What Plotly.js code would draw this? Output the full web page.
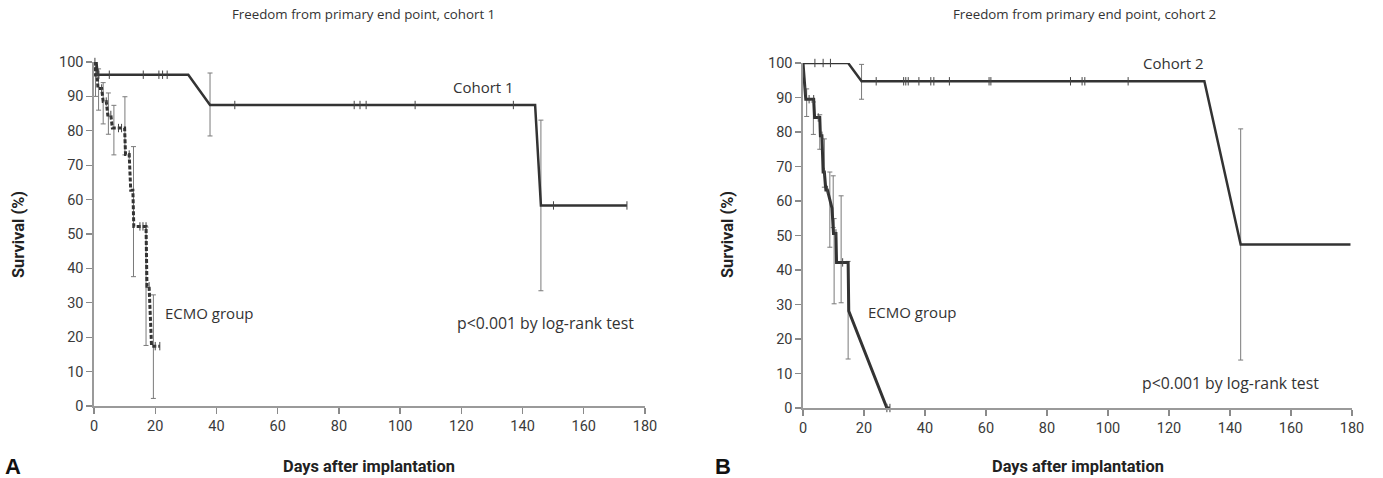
<!DOCTYPE html>
<html>
<head>
<meta charset="utf-8">
<script src="https://cdn.plot.ly/plotly-3.0.1.min.js"></script>
<style>html,body{margin:0;padding:0;background:#fff;}#chart{width:1383px;height:478px;}</style>
</head>
<body>
<div id="chart"></div>
<script>
// ---------- Panel A data ----------
const c1Days = [0, 0.8, 1.2, 1.6, 5, 16.1, 21.2, 22.4, 23.9, 30.8, 37.9, 46, 85, 86.9, 88.9, 104.9, 137, 144.1, 146, 150.1, 174.1];
const c1Surv = [100, 100, 96.3, 96.3, 96.3, 96.3, 96.3, 96.3, 96.3, 96.3, 87.5, 87.5, 87.5, 87.5, 87.5, 87.5, 87.5, 87.5, 58.3, 58.3, 58.3];
const c1CensorDays = [1.6, 5, 16.1, 21.2, 22.4, 23.9, 46, 85, 86.9, 88.9, 104.9, 137, 150.1, 174.1];
const c1CensorSurv = [96.3, 96.3, 96.3, 96.3, 96.3, 96.3, 87.5, 87.5, 87.5, 87.5, 87.5, 87.5, 58.3, 58.3];
const c1CiDays = [37.9, 146];
const c1CiSurv = [87.5, 58.3];
const c1CiLow = [78.5, 33.5];
const c1CiHigh = [96.8, 83.1];

const e1Days = [0, 0.3, 0.5, 1, 1.3, 2, 2.5, 3, 4, 4.5, 5.5, 6, 8, 9, 10, 10.3, 11.5, 12, 12.7, 13, 15, 16, 17, 17.3, 18, 18.8, 20, 21.5];
const e1Surv = [100, 100, 96.2, 96.2, 92.3, 92.3, 92.3, 88.5, 88.5, 84.6, 84.6, 80.8, 80.8, 80.8, 80.8, 73.1, 73.1, 62.7, 62.7, 52.2, 52.2, 52.2, 52.2, 34.8, 34.8, 17.4, 17.4, 17.4];
const e1CensorDays = [0.3, 1, 2.5, 4, 5.5, 8, 9, 11.5, 15, 16, 17, 18, 20, 21.5];
const e1CensorSurv = [100, 96.2, 92.3, 88.5, 84.6, 80.8, 80.8, 73.1, 52.2, 52.2, 52.2, 34.8, 17.4, 17.4];
const e1CiDays = [0.5, 1.5, 3, 4.7, 6.5, 10.1, 12.9, 17, 19.4];
const e1CiSurv = [96.2, 92.3, 88.5, 84.6, 80.8, 80.8, 62.7, 34.8, 17.4];
const e1CiLow = [90, 86, 82, 79, 73, 73, 37.6, 17.6, 2.2];
const e1CiHigh = [100, 98, 94, 91, 87.4, 89.9, 75.4, 52, 32.3];

// ---------- Panel B data ----------
const c2Days = [0, 3.9, 6.6, 9, 14.8, 19.2, 24, 33, 33.7, 34.5, 38, 41.9, 42.9, 48, 61, 61.6, 87.7, 91.5, 92.4, 106.6, 131.6, 143.5, 179.5];
const c2Surv = [100, 100, 100, 100, 100, 94.7, 94.7, 94.7, 94.7, 94.7, 94.7, 94.7, 94.7, 94.7, 94.7, 94.7, 94.7, 94.7, 94.7, 94.7, 94.7, 47.4, 47.4];
const c2CensorDays = [3.9, 6.6, 9, 24, 33, 33.7, 34.5, 38, 41.9, 42.9, 48, 61, 61.6, 87.7, 91.5, 92.4, 106.6];
const c2CensorSurv = [100, 100, 100, 94.7, 94.7, 94.7, 94.7, 94.7, 94.7, 94.7, 94.7, 94.7, 94.7, 94.7, 94.7, 94.7, 94.7];
const c2CiDays = [19.2, 143.5];
const c2CiSurv = [94.7, 47.4];
const c2CiLow = [89.5, 13.9];
const c2CiHigh = [99.6, 80.9];

const e2Days = [0, 0.2, 0.4, 0.7, 0.9, 2, 3.5, 3.8, 5, 5.5, 5.7, 6.2, 6.4, 6.6, 7, 7.5, 8, 9.5, 10, 10.8, 11, 13, 14.8, 15, 27.5, 28.5];
const e2Surv = [100, 97, 94.7, 92, 89.5, 89.5, 89.5, 84.2, 84.2, 84.2, 78.9, 78.9, 73.7, 68.4, 68.4, 63.2, 63.2, 57.9, 50.6, 50.6, 42.2, 42.2, 42.2, 28.1, 0, 0];
const e2CensorDays = [0.2, 0.7, 2, 3.5, 5, 6.2, 7, 8, 10.8, 13, 27.5, 28.5];
const e2CensorSurv = [97, 92, 89.5, 89.5, 84.2, 78.9, 68.4, 63.2, 50.6, 42.2, 0, 0];
const e2CiDays = [1.2, 3.4, 5.5, 7, 8.8, 9.9, 10.2, 12.5, 14.8];
const e2CiSurv = [89.5, 84.2, 78.9, 68.4, 57.9, 50.6, 42.2, 42.2, 28.1];
const e2CiLow = [84.5, 79.3, 75, 64, 46.6, 52.3, 30.2, 30.5, 14.2];
const e2CiHigh = [92.5, 88.7, 85, 78, 68.4, 67.3, 54.9, 61.5, 42.5];

const xTickVals = [0, 20, 40, 60, 80, 100, 120, 140, 160, 180];
const yTickVals = [0, 10, 20, 30, 40, 50, 60, 70, 80, 90, 100];

const LINE = '#333333';
const ERR = '#7a7a7a';

function curve(x, y, xa, ya, dash, width) {
  return {x: x, y: y, xaxis: xa, yaxis: ya, type: 'scatter', mode: 'lines',
    line: {color: LINE, width: width, dash: dash}, cliponaxis: false, hoverinfo: 'skip', showlegend: false};
}
function censor(x, y, xa, ya) {
  return {x: x, y: y, xaxis: xa, yaxis: ya, type: 'scatter', mode: 'markers',
    marker: {symbol: 'line-ns', size: 6, color: '#444', line: {width: 1, color: '#444'}},
    cliponaxis: false, hoverinfo: 'skip', showlegend: false};
}
function ci(x, y, lo, hi, xa, ya) {
  return {x: x, y: y, xaxis: xa, yaxis: ya, type: 'scatter', mode: 'markers',
    marker: {size: 1, color: 'rgba(0,0,0,0)'},
    error_y: {type: 'data', symmetric: false,
      array: hi.map((h, i) => h - y[i]), arrayminus: lo.map((l, i) => y[i] - l),
      color: ERR, thickness: 1, width: 2.5},
    cliponaxis: false, hoverinfo: 'skip', showlegend: false};
}

const data = [
  ci(c1CiDays, c1CiSurv, c1CiLow, c1CiHigh, 'x', 'y'),
  ci(e1CiDays, e1CiSurv, e1CiLow, e1CiHigh, 'x', 'y'),
  curve(c1Days, c1Surv, 'x', 'y', 'solid', 2.5),
  curve(e1Days, e1Surv, 'x', 'y', '4px,2px', 3),
  censor(c1CensorDays, c1CensorSurv, 'x', 'y'),
  censor(e1CensorDays, e1CensorSurv, 'x', 'y'),
  ci(c2CiDays, c2CiSurv, c2CiLow, c2CiHigh, 'x2', 'y2'),
  ci(e2CiDays, e2CiSurv, e2CiLow, e2CiHigh, 'x2', 'y2'),
  curve(c2Days, c2Surv, 'x2', 'y2', 'solid', 2.5),
  curve(e2Days, e2Surv, 'x2', 'y2', 'solid', 3),
  censor(c2CensorDays, c2CensorSurv, 'x2', 'y2'),
  censor(e2CensorDays, e2CensorSurv, 'x2', 'y2')
];

const W = 1383, H = 478;
const tickFont = {family: 'Roboto, sans-serif', size: 14.5, color: '#3a3a3a'};
function xAxis(domain, anchor) {
  return {domain: domain, range: [0, 180], anchor: anchor, tickvals: xTickVals, ticktext: xTickVals.map(String),
    ticks: 'outside', ticklen: 6, tickwidth: 1.3, tickcolor: '#8a8a8a', showline: true, linecolor: '#9a9a9a', linewidth: 1.6,
    showgrid: false, zeroline: false, tickfont: tickFont, fixedrange: true};
}
function yAxis(domain, anchor) {
  return {domain: domain, range: [0, 100], anchor: anchor, tickvals: yTickVals, ticktext: yTickVals.map(String),
    ticks: 'outside', ticklen: 6, tickwidth: 1.3, tickcolor: '#8a8a8a', showline: true, linecolor: '#9a9a9a', linewidth: 1.6,
    showgrid: false, zeroline: false, tickfont: tickFont, fixedrange: true};
}

const annFont = {family: 'Open Sans, Noto Sans, sans-serif', size: 15, color: '#333'};
const pFont = {family: 'Open Sans, Noto Sans, sans-serif', size: 15.8, color: '#333'};
const titleFont = {family: 'Open Sans, Noto Sans, sans-serif', size: 13.3, color: '#333'};
const axTitleFont = {family: 'Roboto, sans-serif', size: 16.4, color: '#222', weight: 'bold'};
const letterFont = {family: 'Liberation Sans, Arial, sans-serif', size: 22, color: '#111', weight: 'bold'};

const annotations = [
  {xref: 'paper', yref: 'paper', x: 363 / W, y: 1 - 14 / H, text: 'Freedom from primary end point, cohort 1', showarrow: false, font: titleFont, xanchor: 'center', yanchor: 'middle'},
  {xref: 'paper', yref: 'paper', x: 1084 / W, y: 1 - 14 / H, text: 'Freedom from primary end point, cohort 2', showarrow: false, font: titleFont, xanchor: 'center', yanchor: 'middle'},
  {xref: 'x', yref: 'y', x: 127.1, y: 92.6, text: 'Cohort 1', showarrow: false, font: annFont, xanchor: 'center', yanchor: 'middle'},
  {xref: 'x', yref: 'y', x: 22.5, y: 27, text: 'ECMO group', showarrow: false, font: annFont, xanchor: 'left', yanchor: 'middle'},
  {xref: 'x', yref: 'y', x: 118, y: 24.1, text: 'p&lt;0.001 by log-rank test', showarrow: false, font: pFont, xanchor: 'left', yanchor: 'middle'},
  {xref: 'x2', yref: 'y2', x: 121.6, y: 100, text: 'Cohort 2', showarrow: false, font: annFont, xanchor: 'center', yanchor: 'middle'},
  {xref: 'x2', yref: 'y2', x: 20.7, y: 27.8, text: 'ECMO group', showarrow: false, font: annFont, xanchor: 'left', yanchor: 'middle'},
  {xref: 'x2', yref: 'y2', x: 110.5, y: 7.2, text: 'p&lt;0.001 by log-rank test', showarrow: false, font: pFont, xanchor: 'left', yanchor: 'middle'},
  {xref: 'paper', yref: 'paper', x: 18 / W, y: 1 - 235 / H, text: 'Survival (%)', textangle: -90, showarrow: false, font: axTitleFont, xanchor: 'center', yanchor: 'middle'},
  {xref: 'paper', yref: 'paper', x: 727 / W, y: 1 - 235 / H, text: 'Survival (%)', textangle: -90, showarrow: false, font: axTitleFont, xanchor: 'center', yanchor: 'middle'},
  {xref: 'paper', yref: 'paper', x: 369 / W, y: 1 - 466 / H, text: 'Days after implantation', showarrow: false, font: axTitleFont, xanchor: 'center', yanchor: 'middle'},
  {xref: 'paper', yref: 'paper', x: 1078 / W, y: 1 - 466 / H, text: 'Days after implantation', showarrow: false, font: axTitleFont, xanchor: 'center', yanchor: 'middle'},
  {xref: 'paper', yref: 'paper', x: 13 / W, y: 1 - 466 / H, text: 'A', showarrow: false, font: letterFont, xanchor: 'center', yanchor: 'middle'},
  {xref: 'paper', yref: 'paper', x: 723 / W, y: 1 - 466 / H, text: 'B', showarrow: false, font: letterFont, xanchor: 'center', yanchor: 'middle'}
];

const layout = {
  width: W, height: H,
  margin: {l: 0, r: 0, t: 0, b: 0},
  paper_bgcolor: '#fff', plot_bgcolor: '#fff',
  showlegend: false,
  xaxis: xAxis([94 / W, 645 / W], 'y'),
  yaxis: yAxis([(H - 406) / H, (H - 62) / H], 'x'),
  xaxis2: xAxis([803 / W, 1352 / W], 'y2'),
  yaxis2: yAxis([(H - 408) / H, (H - 63) / H], 'x2'),
  annotations: annotations
};

Plotly.newPlot('chart', data, layout, {staticPlot: true, displayModeBar: false});
</script>
</body>
</html>
